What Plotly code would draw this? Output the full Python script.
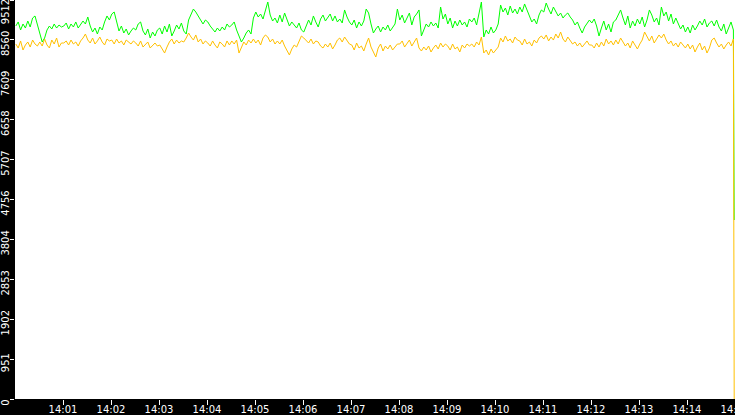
import pandas as pd
import plotly.graph_objects as go

# one reading every 3 s from 14:00:01, plus the last sample just before 14:15
green_vals = [
    8892, 8988, 8797, 8940, 8844, 9011, 8868, 9083, 9131, 8940,
    8701, 8511, 8606, 8797, 8892, 8821, 8940, 8844, 8916, 8868,
    8892, 8964, 8821, 8940, 8868, 8988, 8844, 8916, 9011, 8940,
    9107, 8892, 8749, 8844, 8701, 8868, 8797, 8988, 9131, 9035,
    9178, 9226, 8988, 8773, 8892, 8725, 8821, 8678, 8773, 8844,
    8797, 8940, 8988, 8773, 8678, 8821, 8606, 8749, 8654, 8797,
    8844, 8701, 8892, 8749, 8940, 8654, 8773, 8916, 8821, 8964,
    8773, 8701, 9035, 9178, 9297, 9226, 9131, 9059, 8940, 9035,
    8988, 8892, 8821, 8749, 8844, 8773, 8868, 8797, 8940, 8868,
    8916, 8988, 8797, 8654, 8511, 8606, 8725, 8797, 8701, 9083,
    9226, 9107, 9178, 9059, 9297, 9464, 9154, 9011, 9083, 8964,
    9154, 8988, 9202, 9035, 8892, 8988, 8916, 8844, 8964, 8797,
    8749, 8892, 9035, 8916, 9131, 8988, 8868, 9059, 9154, 9011,
    9083, 9178, 9011, 9131, 8988, 9059, 8964, 9274, 9107, 8988,
    8916, 9035, 8844, 8988, 8892, 9011, 9297, 9202, 8940, 8725,
    8821, 8892, 8749, 8868, 8797, 8916, 8773, 8844, 8940, 9297,
    9035, 9154, 8964, 9083, 9202, 8916, 9107, 9178, 9274, 8654,
    8797, 8940, 8868, 8988, 8892, 8964, 8844, 9345, 9059, 9178,
    8940, 9083, 8844, 9011, 8892, 9035, 8916, 8988, 8868, 9059,
    8988, 9083, 8916, 9154, 9464, 8630, 8797, 8701, 8868, 8725,
    8797, 8940, 9393, 9226, 9321, 9154, 9369, 9202, 9297, 9178,
    9345, 9226, 9417, 9274, 9131, 8988, 9059, 8940, 9154, 9274,
    9226, 9440, 9297, 9178, 9345, 9250, 9131, 9202, 9083, 9154,
    9202, 9107, 9035, 8916, 8988, 8844, 8725, 8868, 8940, 9035,
    8964, 9059, 8892, 8654, 8844, 9011, 8797, 8940, 8749, 8988,
    9035, 9178, 9274, 9083, 8916, 9131, 8844, 9011, 8892, 9059,
    8940, 9107, 8868, 9035, 9274, 9154, 8988, 9083, 8916, 9345,
    9131, 9226, 9011, 9178, 8940, 9083, 8964, 8821, 8916, 8749,
    8868, 8725, 8916, 8797, 8892, 9011, 8916, 9059, 8868, 8964,
    9011, 8892, 9035, 8868, 8773, 8940, 8701, 8844, 8988, 8797,
    4267,
]

orange_vals = [
    8463, 8368, 8535, 8320, 8439, 8511, 8391, 8558, 8463, 8415,
    8511, 8415, 8582, 8439, 8368, 8558, 8463, 8606, 8391, 8487,
    8487, 8535, 8439, 8558, 8463, 8511, 8415, 8535, 8606, 8701,
    8558, 8487, 8606, 8463, 8535, 8630, 8511, 8439, 8582, 8535,
    8558, 8463, 8582, 8487, 8535, 8439, 8558, 8511, 8463, 8535,
    8487, 8415, 8535, 8391, 8463, 8511, 8368, 8439, 8487, 8415,
    8439, 8344, 8248, 8391, 8511, 8582, 8463, 8558, 8487, 8535,
    8511, 8606, 8725, 8630, 8558, 8678, 8511, 8582, 8463, 8535,
    8487, 8415, 8535, 8439, 8368, 8511, 8463, 8391, 8535, 8439,
    8535, 8463, 8558, 8248, 8391, 8511, 8439, 8558, 8487, 8582,
    8487, 8558, 8439, 8606, 8678, 8630, 8511, 8582, 8463, 8535,
    8463, 8558, 8415, 8320, 8201, 8344, 8439, 8391, 8535, 8654,
    8606, 8558, 8487, 8582, 8463, 8535, 8511, 8415, 8368, 8463,
    8391, 8487, 8344, 8439, 8558, 8606, 8511, 8630, 8535, 8463,
    8439, 8320, 8487, 8368, 8415, 8296, 8463, 8606, 8391, 8272,
    8153, 8368, 8463, 8296, 8415, 8344, 8439, 8320, 8391, 8463,
    8463, 8535, 8391, 8487, 8558, 8415, 8511, 8606, 8368, 8296,
    8391, 8320, 8415, 8272, 8368, 8439, 8344, 8487, 8391, 8463,
    8415, 8320, 8463, 8344, 8391, 8272, 8439, 8368, 8463, 8415,
    8463, 8391, 8511, 8439, 8630, 8248, 8320, 8201, 8344, 8248,
    8320, 8391, 8606, 8511, 8654, 8535, 8582, 8487, 8630, 8558,
    8535, 8439, 8582, 8463, 8511, 8415, 8558, 8487, 8606, 8654,
    8582, 8678, 8535, 8630, 8558, 8701, 8606, 8749, 8582, 8511,
    8630, 8535, 8463, 8511, 8415, 8487, 8391, 8463, 8535, 8439,
    8439, 8368, 8487, 8391, 8511, 8415, 8582, 8463, 8535, 8439,
    8558, 8463, 8606, 8511, 8415, 8487, 8368, 8535, 8439, 8344,
    8463, 8558, 8749, 8630, 8535, 8654, 8487, 8582, 8678, 8606,
    8701, 8558, 8463, 8535, 8415, 8487, 8391, 8511, 8439, 8368,
    8463, 8344, 8439, 8272, 8391, 8487, 8320, 8415, 8248, 8368,
    8558, 8606, 8487, 8391, 8463, 8344, 8439, 8511, 8415, 8582,
    0,
]

y_ticks = [0, 951.2, 1902.4, 2853.6, 3804.8, 4756, 5707.2, 6658.4, 7609.6, 8560.8]
y_labels = ['0', '951', '1902', '2853', '3804', '4756', '5707', '6658', '7609', '8560']
y_top = 9512

times = list(pd.date_range('2024-01-01 14:00:01', periods=300, freq='3s'))
times.append(pd.Timestamp('2024-01-01 14:14:59'))
minute_ticks = pd.date_range('2024-01-01 14:01', '2024-01-01 14:15', freq='1min')

fnt = dict(family='DejaVu Sans', size=10, color='white')

fig = go.Figure()
fig.add_trace(go.Scatter(x=times, y=green_vals, mode='lines',
                         line=dict(color='#00ff00', width=1), yaxis='y'))
fig.add_trace(go.Scatter(x=times, y=orange_vals, mode='lines',
                         line=dict(color='#ffc000', width=1), yaxis='y2'))

axis_common = dict(range=[0, y_top], showgrid=False, zeroline=False,
                   ticks='outside', ticklen=4, tickcolor='white', tickwidth=1,
                   tickangle=-90, tickfont=fnt, fixedrange=True,
                   ticklabelstandoff=-3,
                   ticklabeloverflow='allow', automargin=False)

fig.update_layout(
    width=735, height=415,
    margin=dict(l=15, r=0, t=0, b=16),
    paper_bgcolor='black', plot_bgcolor='white',
    showlegend=False,
    xaxis=dict(type='date',
               range=['2024-01-01 14:00:00', '2024-01-01 14:15:00'],
               tickvals=list(minute_ticks), tickformat='%H:%M',
               showgrid=False, zeroline=False,
               ticks='outside', ticklen=5, tickcolor='white',
               tickfont=fnt, ticklabelstandoff=-4,
               ticklabeloverflow='allow', automargin=False),
    yaxis=dict(tickvals=y_ticks, ticktext=y_labels, ticklabelshift=5,
               **axis_common),
    yaxis2=dict(overlaying='y', side='left', anchor='x',
                tickvals=[y_top], ticktext=[str(y_top)], ticklabelshift=13,
                **axis_common),
)

fig.write_html("out.html", config={'displayModeBar': False},
               post_script="document.body.style.margin='0';")
